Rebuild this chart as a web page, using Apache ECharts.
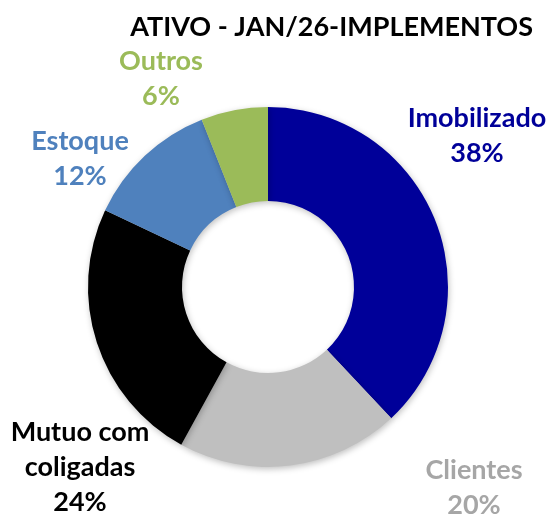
<!DOCTYPE html>
<html>
<head>
<meta charset="utf-8">
<script src="https://cdn.jsdelivr.net/npm/echarts@6/dist/echarts.min.js"></script>
<style>
  html, body { margin: 0; padding: 0; background: #fff; }
  #main { width: 552px; height: 515px; }
</style>
</head>
<body>
<div id="main"></div>
<script>
var categories = ['Imobilizado', 'Clientes', 'Mutuo com\ncoligadas', 'Estoque', 'Outros'];
var values = [38, 20, 24, 12, 6];
var colors = ['#000099', '#BFBFBF', '#000000', '#4F81BD', '#9BBB59'];
var labelColors = ['#000099', '#A6A6A6', '#000000', '#4F81BD', '#9BBB59'];

// label centre points (px)
var labelPos = [[477, 136], [474, 488], [80, 467], [80, 159], [161, 79]];

var myChart = echarts.init(document.getElementById('main'));

var data = categories.map(function (name, i) {
    return {
        name: name,
        value: values[i],
        itemStyle: { color: colors[i] },
        label: { color: labelColors[i] }
    };
});

var option = {
    animation: false,
    title: {
        text: 'ATIVO - JAN/26-IMPLEMENTOS',
        right: 14,
        top: 9,
        textStyle: {
            fontFamily: 'Lato',
            fontWeight: 'bold',
            fontSize: 27,
            color: '#000'
        }
    },
    series: [
        {
            type: 'pie',
            center: [268, 287],
            radius: [86, 180],
            startAngle: 90,
            clockwise: true,
            data: data,
            itemStyle: {
                shadowBlur: 6,
                shadowOffsetX: 1,
                shadowOffsetY: 2,
                shadowColor: 'rgba(0,0,0,0.25)'
            },
            label: {
                show: true,
                position: 'outside',
                formatter: '{b}\n{d}%',
                fontFamily: 'Lato',
                fontWeight: 'bold',
                fontSize: 27,
                lineHeight: 35,
                align: 'center',
                overflow: 'none'
            },
            labelLine: { show: false },
            labelLayout: function (params) {
                var p = labelPos[params.dataIndex];
                return { x: p[0], y: p[1], align: 'center', verticalAlign: 'middle' };
            }
        }
    ]
};
myChart.setOption(option);
</script>
</body>
</html>
